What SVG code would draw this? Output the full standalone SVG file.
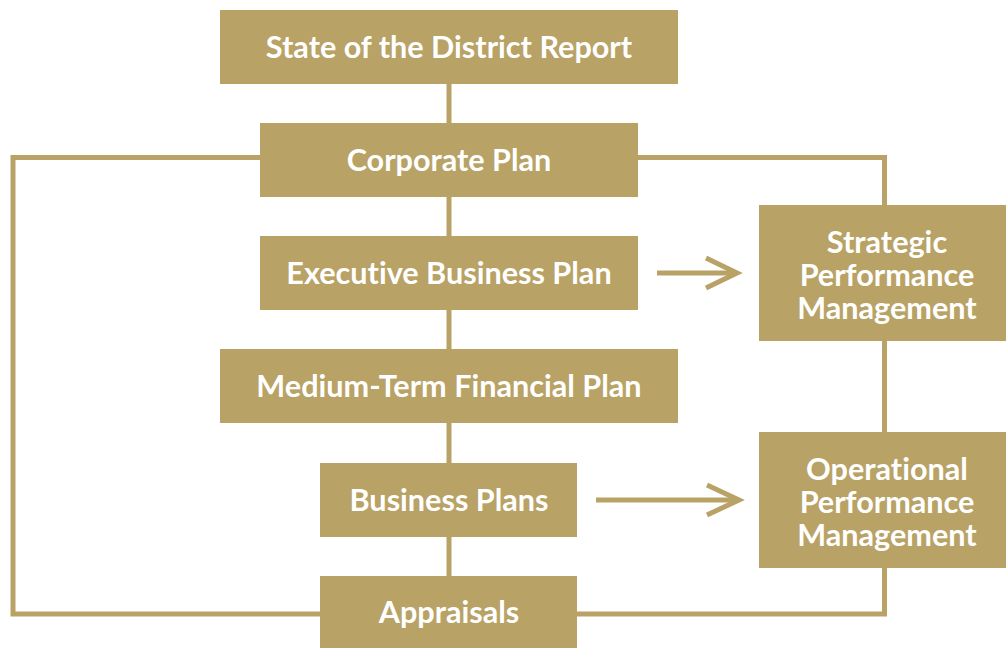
<svg xmlns="http://www.w3.org/2000/svg" width="1006" height="648" viewBox="0 0 1006 648">
<style>
.box{fill:#B8A265}
.t{fill:#ffffff;font-family:Lato,"Open Sans",sans-serif;font-weight:700;font-size:30.6px;text-anchor:middle;font-variant-ligatures:none}
.ln{fill:none;stroke:#B8A265;stroke-width:5}
</style>
<rect width="1006" height="648" fill="#ffffff"/>
<g id="connectors">
<line class="ln" x1="449" y1="84" x2="449" y2="576"/>
<polyline class="ln" points="260,157.5 13,157.5 13,614 320,614"/>
<polyline class="ln" points="638,157.5 884.5,157.5 884.5,205"/>
<line class="ln" x1="884.5" y1="341" x2="884.5" y2="432"/>
<polyline class="ln" points="884.5,568 884.5,614 577,614"/>
<line class="ln" x1="657" y1="273" x2="736" y2="273"/>
<polyline class="ln" points="706,258 737,273 706,288"/>
<line class="ln" x1="596" y1="500" x2="738" y2="500"/>
<polyline class="ln" points="707,485 739,500 707,515"/>
</g>
<g id="n1"><rect class="box" x="220" y="10" width="458" height="74"/><text class="t" x="449" y="58">State of the District Report</text></g>
<g id="n2"><rect class="box" x="260" y="123" width="378" height="74"/><text class="t" x="449" y="171">Corporate Plan</text></g>
<g id="n3"><rect class="box" x="260" y="236" width="378" height="74"/><text class="t" x="449" y="284">Executive Business Plan</text></g>
<g id="n4"><rect class="box" x="220" y="349" width="458" height="74"/><text class="t" x="449" y="397">Medium-Term Financial Plan</text></g>
<g id="n5"><rect class="box" x="320" y="463" width="257" height="74"/><text class="t" x="449" y="511">Business Plans</text></g>
<g id="n6"><rect class="box" x="320" y="576" width="257" height="72"/><text class="t" x="449" y="623">Appraisals</text></g>
<g id="n7"><rect class="box" x="759" y="205" width="247" height="136"/><text class="t" x="887" y="253">Strategic</text><text class="t" x="887" y="286">Performance</text><text class="t" x="887" y="319">Management</text></g>
<g id="n8"><rect class="box" x="759" y="432" width="247" height="136"/><text class="t" x="887" y="480">Operational</text><text class="t" x="887" y="513">Performance</text><text class="t" x="887" y="546">Management</text></g>
</svg>
